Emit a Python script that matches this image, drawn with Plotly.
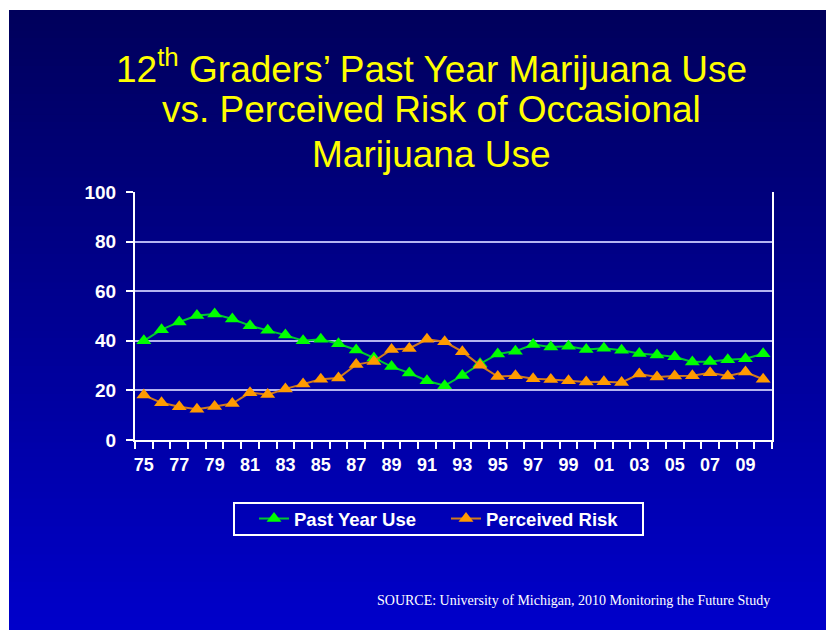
import plotly.graph_objects as go

years = ["75","76","77","78","79","80","81","82","83","84","85","86","87","88","89","90","91","92",
         "93","94","95","96","97","98","99","00","01","02","03","04","05","06","07","08","09","10"]
past_year_use = [40.0,44.5,47.6,50.2,50.8,48.8,46.1,44.3,42.3,40.0,40.6,38.8,36.3,33.1,29.6,27.0,23.9,21.9,
                 26.0,30.7,34.7,35.8,38.5,37.5,37.8,36.5,37.0,36.2,34.9,34.3,33.6,31.5,31.7,32.4,32.8,34.8]
perceived_risk = [18.1,15.0,13.4,12.4,13.5,14.7,19.1,18.3,20.6,22.6,24.5,25.0,30.4,31.7,36.5,36.9,40.6,39.6,
                  35.6,30.1,25.6,25.9,24.7,24.4,23.9,23.4,23.5,23.2,26.6,25.4,25.8,25.9,27.1,25.8,27.4,24.5]
y_ticks = [0, 20, 40, 60, 80, 100]

W, H = 834, 630
OFF = 8  # page body margin offset
xs = list(range(len(years)))

def px(x):
    return (x - OFF) / W

def py(y):
    return 1 - (y - OFF) / H

fig = go.Figure()
fig.add_trace(go.Scatter(x=xs, y=past_year_use, name="Past Year Use", mode="lines+markers",
                         line=dict(color="#00C832", width=2),
                         marker=dict(symbol="triangle-up", size=13, color="#00FF00")))
fig.add_trace(go.Scatter(x=xs, y=perceived_risk, name="Perceived Risk", mode="lines+markers",
                         line=dict(color="#D07A1E", width=2),
                         marker=dict(symbol="triangle-up", size=13, color="#FF9A00")))

# gradient background via stacked rectangles
shapes = []
n = 90
top_px, bot_px = 10, H + OFF
c0 = (0, 0, 0x5C)
c1 = (0, 0, 0xCC)
for i in range(n):
    t = i / (n - 1)
    b = int(c0[2] + (c1[2] - c0[2]) * t)
    ya = top_px + (bot_px - top_px) * i / n
    yb = top_px + (bot_px - top_px) * (i + 1) / n + 1
    shapes.append(dict(type="rect", xref="paper", yref="paper", x0=px(9), x1=1.0,
                       y0=max(py(yb), 0), y1=py(ya), line=dict(width=0),
                       fillcolor=f"rgb(0,0,{b})", layer="below"))
# legend frame
shapes.append(dict(type="rect", xref="paper", yref="paper", x0=px(234), x1=px(643),
                   y0=py(535), y1=py(503), line=dict(color="white", width=2),
                   fillcolor="rgba(0,0,0,0)", layer="above"))

fig.update_layout(
    width=W, height=H,
    paper_bgcolor="white", plot_bgcolor="rgba(0,0,0,0)",
    margin=dict(l=0, r=0, t=0, b=0, pad=0),
    shapes=shapes,
    showlegend=True,
    legend=dict(orientation="h", x=px(254), xanchor="left", y=py(519), yanchor="middle",
                bgcolor="rgba(0,0,0,0)", borderwidth=0,
                font=dict(family="Liberation Sans, Arial", size=18.5, color="white", weight="bold"),
                entrywidth=147, itemwidth=30, tracegroupgap=0),
    font=dict(family="Liberation Sans, Arial"),
)

fig.update_xaxes(domain=[px(135), px(772)], automargin=False,
                 range=[-0.5, len(years) - 0.5], tickvals=xs[::2], ticktext=years[::2],
                 showgrid=False, zeroline=False, showline=True, linecolor="white", linewidth=2,
                 ticks="outside", ticklen=6, tickcolor="rgba(0,0,0,0)", ticklabelstandoff=1,
                 tickfont=dict(family="Liberation Sans, Arial", size=18, color="white", weight="bold"),
                 minor=dict(tickvals=[i - 0.5 for i in range(len(years) + 1)], ticks="outside",
                            ticklen=7, tickcolor="white", tickwidth=2, showgrid=False))
fig.update_yaxes(domain=[py(440), py(192)], automargin=False,
                 range=[0, 100], tickvals=y_ticks, showgrid=True, gridcolor="#B4B4F0", gridwidth=2,
                 zeroline=False, showline=True, linecolor="white", linewidth=2, mirror=True,
                 ticks="outside", ticklen=7, tickcolor="white", tickwidth=2, ticklabelstandoff=6,
                 tickfont=dict(family="Liberation Sans, Arial", size=19, color="white", weight="bold"))

title_lines = ["12<sup>th</sup> Graders’ Past Year Marijuana Use",
               "vs. Perceived Risk of Occasional",
               "Marijuana Use"]
title_y = [66, 110, 154]
for txt, yp in zip(title_lines, title_y):
    fig.add_annotation(text=txt, x=px(432), y=py(yp), xref="paper", yref="paper",
                       xanchor="center", yanchor="middle", showarrow=False,
                       font=dict(family="Liberation Sans, Arial", size=37, color="#FFFF00"))

fig.add_annotation(text="SOURCE: University of Michigan, 2010 Monitoring the Future Study",
                   x=px(772), y=py(600), xref="paper", yref="paper", xanchor="right",
                   yanchor="middle", showarrow=False,
                   font=dict(family="Liberation Serif, Times New Roman", size=14, color="white"))

fig.write_html("out.html")
